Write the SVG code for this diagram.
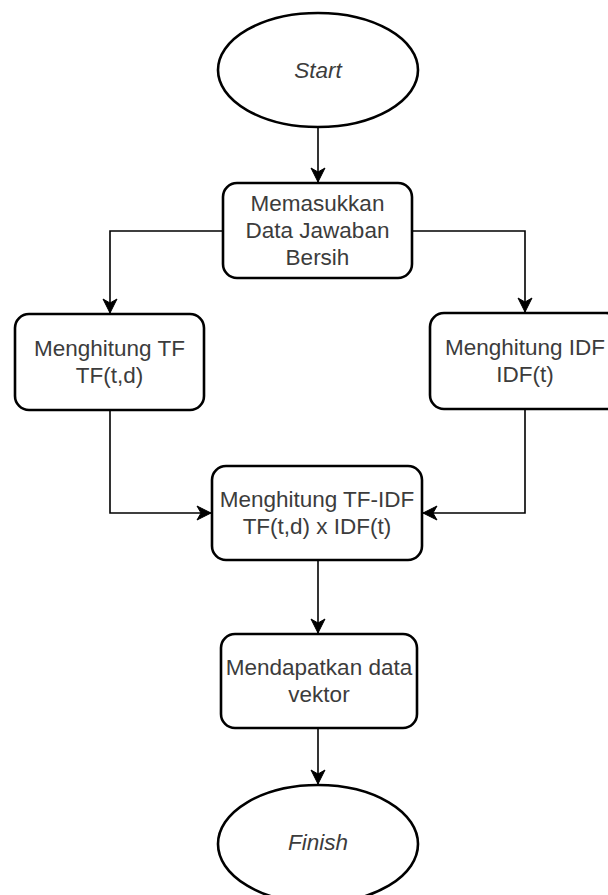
<svg xmlns="http://www.w3.org/2000/svg" width="608" height="895" viewBox="0 0 608 895">
  <style>
    .shape { fill: #ffffff; stroke: #000000; stroke-width: 2.6; }
    .edge { fill: none; stroke: #000000; stroke-width: 1.6; }
    .label { font-family: "Liberation Sans", Arial, sans-serif; font-size: 22.5px; fill: #3c3c3c; text-anchor: middle; dominant-baseline: central; }
    .italic { font-style: italic; }
  </style>
  <defs>
    <marker id="arrow" markerUnits="userSpaceOnUse" markerWidth="18" markerHeight="18" viewBox="0 0 18 18" refX="16" refY="9" orient="auto">
      <path d="M16,9 L2,2 L6,9 L2,16 Z" fill="#000000" stroke="#000000" stroke-width="1"/>
    </marker>
  </defs>

  <!-- connectors -->
  <g id="connectors">
    <path class="edge" d="M318,127 L318,182" marker-end="url(#arrow)"/>
    <path class="edge" d="M223,231 L110,231 L110,313" marker-end="url(#arrow)"/>
    <path class="edge" d="M412,231 L525,231 L525,312" marker-end="url(#arrow)"/>
    <path class="edge" d="M110,410 L110,513 L211,513" marker-end="url(#arrow)"/>
    <path class="edge" d="M525,409 L525,513 L423,513" marker-end="url(#arrow)"/>
    <path class="edge" d="M318,560 L318,633" marker-end="url(#arrow)"/>
    <path class="edge" d="M318,728 L318,784" marker-end="url(#arrow)"/>
  </g>

  <g id="start">
    <ellipse class="shape" cx="318" cy="70" rx="100" ry="57"/>
    <text class="label italic" x="318" y="70">Start</text>
  </g>

  <g id="input-data">
    <rect class="shape" x="223" y="183" width="189" height="95" rx="14"/>
    <text class="label" x="317.5" y="203.5">Memasukkan</text>
    <text class="label" x="317.5" y="230.5">Data Jawaban</text>
    <text class="label" x="317.5" y="257.5">Bersih</text>
  </g>

  <g id="compute-tf">
    <rect class="shape" x="15" y="314" width="189" height="96" rx="14"/>
    <text class="label" x="109.5" y="348.5">Menghitung TF</text>
    <text class="label" x="109.5" y="375.5">TF(t,d)</text>
  </g>

  <g id="compute-idf">
    <rect class="shape" x="430" y="313" width="190" height="96" rx="14"/>
    <text class="label" x="525" y="347.5">Menghitung IDF</text>
    <text class="label" x="525" y="374.5">IDF(t)</text>
  </g>

  <g id="compute-tfidf">
    <rect class="shape" x="212" y="466" width="210" height="94" rx="14"/>
    <text class="label" x="317" y="499.5">Menghitung TF-IDF</text>
    <text class="label" x="317" y="526.5">TF(t,d) x IDF(t)</text>
  </g>

  <g id="vector-data">
    <rect class="shape" x="221" y="634" width="196" height="94" rx="14"/>
    <text class="label" x="319" y="667.5">Mendapatkan data</text>
    <text class="label" x="319" y="694.5">vektor</text>
  </g>

  <g id="finish">
    <ellipse class="shape" cx="318" cy="844" rx="100" ry="59"/>
    <text class="label italic" x="318" y="842">Finish</text>
  </g>
</svg>
